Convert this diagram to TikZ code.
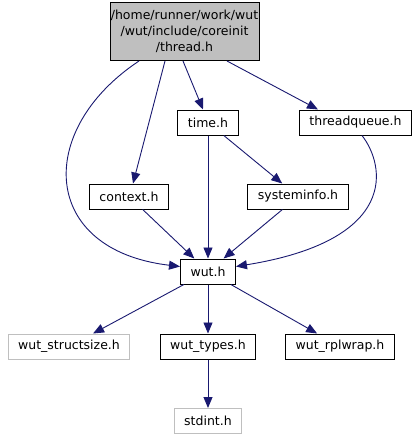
\documentclass[tikz,border=0pt]{standalone}
\usepackage{fontspec}
\setmainfont{DejaVu Sans}
\usetikzlibrary{arrows.meta}
\definecolor{edgeblue}{RGB}{25,25,112}
\definecolor{boxgray}{RGB}{191,191,191}

\begin{document}
\begin{tikzpicture}[x=1pt, y=-1pt,
    file/.style={draw=black, line width=1pt, font=\fontsize{12.5}{16}\selectfont, inner xsep=10pt, inner ysep=0pt, minimum height=25pt},
    extfile/.style={file, draw=boxgray},
    dep/.style={draw=edgeblue, line width=0.9pt, -{Triangle[length=11pt,width=9pt]}}]
  \useasboundingbox (0,0) rectangle (419,440);

  \node[file, fill=boxgray, align=center, inner xsep=0pt, minimum width=149pt, minimum height=58pt] (thread) at (184.5,31.5) {/home/runner/work/wut\\/wut/include/coreinit\\/thread.h};

  \node[file] (timeh) at (208,122.5) {time.h};
  \node[file] (threadqueue) at (355.5,122.5) {threadqueue.h};

  \node[file] (context) at (129,196.5) {context.h};
  \node[file] (systeminfo) at (298,196.5) {systeminfo.h};

  \node[file] (wut) at (208,271.5) {wut.h};

  \node[extfile] (structsize) at (69,346.5) {wut\_structsize.h};
  \node[file] (types) at (208,346.5) {wut\_types.h};
  \node[file] (rplwrap) at (340,346.5) {wut\_rplwrap.h};

  \node[extfile] (stdint) at (208,421) {stdint.h};

  \draw[dep] ([xshift=-45.5pt]thread.south) .. controls (35,130) and (40,250) .. ([yshift=5pt]wut.west);
  \draw[dep] ([xshift=-19.5pt]thread.south) -- ([xshift=4pt]context.north);
  \draw[dep] ([xshift=-1.5pt]thread.south) -- ([xshift=-5pt]timeh.north);
  \draw[dep] ([xshift=42.5pt]thread.south) -- ([xshift=-37.5pt]threadqueue.north);

  \draw[dep] (timeh) -- (wut);
  \draw[dep] (timeh) -- (systeminfo);
  \draw[dep] ([xshift=6.5pt]threadqueue.south) .. controls (385,165) and (400,240) .. ([yshift=5pt]wut.east);

  \draw[dep] (context) -- (wut);
  \draw[dep] (systeminfo) -- (wut);

  \draw[dep] (wut) -- (structsize);
  \draw[dep] (wut) -- (types);
  \draw[dep] (wut) -- (rplwrap);
  \draw[dep] (types) -- (stdint);
\end{tikzpicture}
\end{document}
